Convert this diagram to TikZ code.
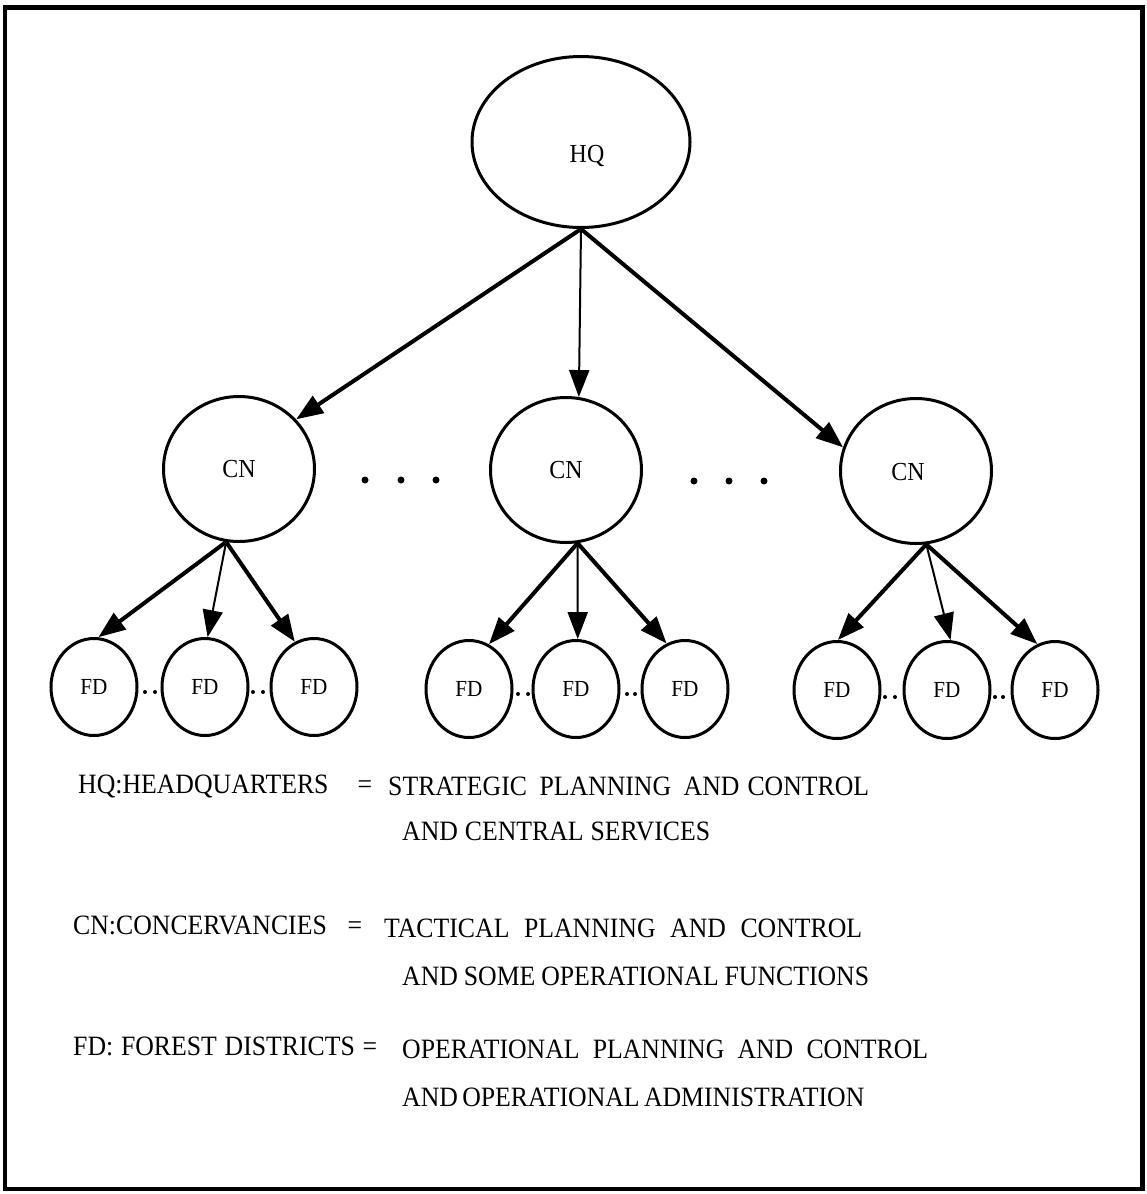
\documentclass[tikz,border=0pt]{standalone}
\usepackage{fontspec}
\setmainfont{Liberation Serif}[FakeStretch=0.92]
\usetikzlibrary{shapes.geometric,arrows.meta}

\begin{document}
\begin{tikzpicture}[x=1bp,y=-1bp,
  unit/.style={ellipse,draw,line width=3bp,inner sep=0pt},
  hqunit/.style={unit,minimum width=218bp,minimum height=171bp},
  cnunit/.style={unit,minimum width=151bp,minimum height=145bp,font=\fontsize{26bp}{31bp}\selectfont},
  fdunit/.style={unit,minimum width=86bp,minimum height=97bp,font=\fontsize{23bp}{28bp}\selectfont},
  link/.style={line width=4bp,-{Triangle[length=27bp,width=20bp]}},
  thinlink/.style={link,line width=2bp},
  legend/.style={anchor=base west,inner sep=0pt,font=\fontsize{28bp}{33bp}\selectfont},
  bigdot/.style={circle,fill,inner sep=0pt,minimum size=7bp},
  smalldot/.style={circle,fill,inner sep=0pt,minimum size=4bp}]

\useasboundingbox (0,0) rectangle (1147,1194);
% outer frame
\draw[line width=4.5bp] (5,7.5) rectangle (1142.5,1189);

% headquarters
\node[hqunit] (hq) at (581,142) {};
\node[font=\fontsize{26bp}{31bp}\selectfont,inner sep=0pt] (hqtext) at (587,156) {HQ};

% conservancies
\node[cnunit] (cnA) at (239,469) {CN};
\node[cnunit] (cnB) at (566,470) {CN};
\node[cnunit] (cnC) at (916,471) {};
\node[font=\fontsize{26bp}{31bp}\selectfont,inner sep=0pt] (cnCtext) at (908,472) {CN};

% ellipsis dots between conservancies
\foreach \x/\n in {365/1,401/2,436/3}
  \node[bigdot] (dl\n) at (\x,480) {};
\foreach \x/\n in {694/1,729/2,764/3}
  \node[bigdot] (dr\n) at (\x,481) {};

% forest districts
\node[fdunit] (fdA1) at (94,687) {FD};
\node[fdunit] (fdA2) at (205,687) {FD};
\node[fdunit] (fdA3) at (314,687) {FD};
\node[fdunit] (fdB1) at (469,689) {FD};
\node[fdunit] (fdB2) at (576,689) {FD};
\node[fdunit] (fdB3) at (685,689) {FD};
\node[fdunit] (fdC1) at (837,690) {FD};
\node[fdunit] (fdC2) at (947,690) {FD};
\node[fdunit] (fdC3) at (1055,690) {FD};

% small dots between forest districts
\foreach \x/\y/\n in {145/692/1,155/692/2,253/692/3,263/692/4,
                      518/694/5,528/694/6,627/694/7,635/694/8,
                      885/697/9,895/697/10,995/697/11,1003/697/12}
  \node[smalldot] (sd\n) at (\x,\y) {};

% HQ to conservancies
\draw[link] (hq.south) -- (cnA.41);
\draw[thinlink] (hq.south) -- (cnB.80);
\draw[link] (hq.south) -- (cnC.162);

% conservancies to forest districts
\draw[link] (cnA.260) -- (fdA1.85);
\draw[thinlink] (cnA.260) -- (fdA2.87);
\draw[link] (cnA.260) -- (fdA3.113);
\draw[link] (cnB.279) -- (fdB1.66);
\draw[thinlink] (cnB.279) -- (fdB2.88);
\draw[link] (cnB.279) -- (fdB3.112);
\draw[link] (cnC.278) -- (fdC1.89);
\draw[thinlink] (cnC.278) -- (fdC2.86);
\draw[link] (cnC.278) -- (fdC3.111);

% key
\node[legend] (hqkey) at (78,793) {\makebox[294bp][s]{HQ:HEADQUARTERS =}};
\node[legend] (hqdef1) at (388,795) {\makebox[481bp][s]{STRATEGIC PLANNING AND\hspace{8bp}CONTROL}};
\node[legend] (hqdef2) at (402,840) {\makebox[308bp][s]{AND CENTRAL SERVICES}};
\node[legend] (cnkey) at (73,934) {\makebox[289bp][s]{CN:CONCERVANCIES =}};
\node[legend] (cndef1) at (384,937) {\makebox[478bp][s]{TACTICAL PLANNING AND CONTROL}};
\node[legend] (cndef2) at (402,985) {\makebox[467bp][s]{AND SOME OPERATIONAL FUNCTIONS}};
\node[legend] (fdkey) at (73,1055) {\makebox[304bp][s]{FD: FOREST DISTRICTS =}};
\node[legend] (fddef1) at (402,1058) {\makebox[526bp][s]{OPERATIONAL PLANNING AND CONTROL}};
\node[legend] (fddef2) at (402,1106) {\makebox[461bp][s]{AND OPERATIONAL ADMINISTRATION}};
\end{tikzpicture}
\end{document}
